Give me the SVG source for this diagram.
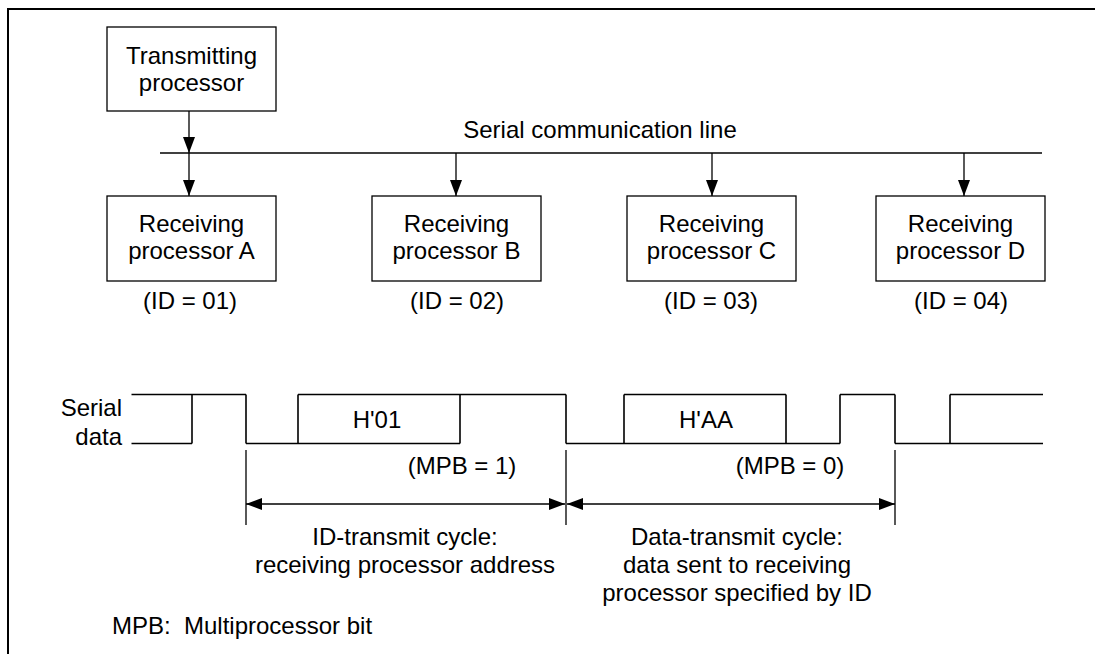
<svg xmlns="http://www.w3.org/2000/svg" width="1095" height="654" viewBox="0 0 1095 654">
<style>
text{font-family:"Liberation Sans",Arial,sans-serif;font-size:24px;fill:#000}
.c{text-anchor:middle}
.box{fill:#fff;stroke:#000;stroke-width:1.3}
.ln{stroke:#000;stroke-width:1.3;fill:none}
.wv{stroke:#000;stroke-width:1.6;fill:none}
</style>
<defs>
<marker id="ah" markerUnits="userSpaceOnUse" markerWidth="16" markerHeight="12" refX="16" refY="6" orient="auto">
<path d="M0,0 L16,6 L0,12 Z" fill="#000"/>
</marker>
<marker id="as" markerUnits="userSpaceOnUse" markerWidth="16" markerHeight="12" refX="0" refY="6" orient="auto">
<path d="M16,0 L0,6 L16,12 Z" fill="#000"/>
</marker>
</defs>
<path d="M8,654 V9 H1095" fill="none" stroke="#000" stroke-width="2"/>
<g id="transmitter">
<rect class="box" x="107" y="27" width="169" height="84"/>
<text class="c" x="191.5" y="64">Transmitting</text>
<text class="c" x="191.5" y="91">processor</text>
</g>
<g id="serial-line">
<line class="ln" x1="160" y1="153" x2="1042" y2="153"/>
<text class="c" x="600" y="138">Serial communication line</text>
</g>
<g id="receiverA">
<rect class="box" x="107" y="196" width="169" height="85"/>
<text class="c" x="191.5" y="232">Receiving</text>
<text class="c" x="191.5" y="259">processor A</text>
<text class="c" x="190" y="309">(ID = 01)</text>
</g>
<g id="receiverB">
<rect class="box" x="372" y="196" width="169" height="85"/>
<text class="c" x="456.5" y="232">Receiving</text>
<text class="c" x="456.5" y="259">processor B</text>
<text class="c" x="457" y="309">(ID = 02)</text>
</g>
<g id="receiverC">
<rect class="box" x="627" y="196" width="169" height="85"/>
<text class="c" x="711.5" y="232">Receiving</text>
<text class="c" x="711.5" y="259">processor C</text>
<text class="c" x="711" y="309">(ID = 03)</text>
</g>
<g id="receiverD">
<rect class="box" x="876" y="196" width="169" height="85"/>
<text class="c" x="960.5" y="232">Receiving</text>
<text class="c" x="960.5" y="259">processor D</text>
<text class="c" x="961" y="309">(ID = 04)</text>
</g>
<g id="connectors">
<line class="ln" x1="189" y1="111" x2="189" y2="153" marker-end="url(#ah)"/>
<line class="ln" x1="189" y1="153" x2="189" y2="196" marker-end="url(#ah)"/>
<line class="ln" x1="456" y1="153" x2="456" y2="196" marker-end="url(#ah)"/>
<line class="ln" x1="712" y1="153" x2="712" y2="196" marker-end="url(#ah)"/>
<line class="ln" x1="964" y1="153" x2="964" y2="196" marker-end="url(#ah)"/>
</g>
<g id="waveform">
<text x="122" y="416" text-anchor="end">Serial</text>
<text x="122" y="445" text-anchor="end">data</text>
<path class="wv" d="M131.5,394.5 H246 M298,394.5 H566 M624,394.5 H786 M840,394.5 H895 M950,394.5 H1043"/>
<path class="wv" d="M131.5,443.5 H192 M246,443.5 H460 M566,443.5 H840 M895,443.5 H1043"/>
<path class="wv" d="M192,394.5 V443.5 M246,394.5 V443.5 M298,394.5 V443.5 M460,394.5 V443.5 M566,394.5 V443.5 M624,394.5 V443.5 M786,394.5 V443.5 M840,394.5 V443.5 M895,394.5 V443.5 M950,394.5 V443.5"/>
<text class="c" x="377" y="428">H'01</text>
<text class="c" x="706" y="428">H'AA</text>
<text class="c" x="462" y="474">(MPB = 1)</text>
<text class="c" x="790" y="474">(MPB = 0)</text>
</g>
<g id="cycles">
<path class="ln" d="M246,450 V525 M566,450 V525 M895,450 V525"/>
<line class="ln" x1="246" y1="504" x2="565" y2="504" marker-start="url(#as)" marker-end="url(#ah)"/>
<line class="ln" x1="567" y1="504" x2="895" y2="504" marker-start="url(#as)" marker-end="url(#ah)"/>
<text class="c" x="405" y="545">ID-transmit cycle:</text>
<text class="c" x="405" y="573">receiving processor address</text>
<text class="c" x="737" y="545">Data-transmit cycle:</text>
<text class="c" x="737" y="573">data sent to receiving</text>
<text class="c" x="737" y="601">processor specified by ID</text>
</g>
<text x="112" y="634" xml:space="preserve">MPB:  Multiprocessor bit</text>
</svg>
